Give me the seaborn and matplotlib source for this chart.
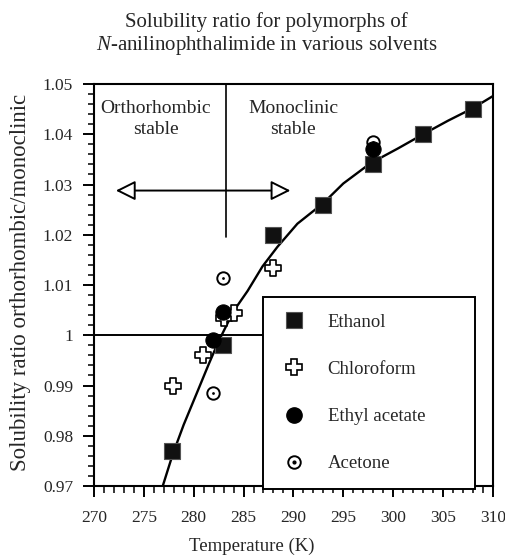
import matplotlib
matplotlib.use("Agg")
import numpy as np
import pandas as pd
import seaborn as sns
import matplotlib.pyplot as plt
from matplotlib.lines import Line2D
from matplotlib.ticker import MultipleLocator, FixedLocator, FixedFormatter

# ---- data ----
ethanol_T = [277.8, 282.9, 288.0, 293.0, 298.0, 303.0, 308.0]
ethanol_R = [0.977, 0.998, 1.020, 1.026, 1.034, 1.040, 1.045]
chloro_T = [277.9, 280.9, 283.0, 284.0, 288.0]
chloro_R = [0.990, 0.996, 1.0035, 1.0045, 1.0133]
ethylac_T = [281.9, 282.9, 298.0]
ethylac_R = [0.999, 1.0046, 1.037]
acetone_T = [281.9, 282.9, 298.0]
acetone_R = [0.9885, 1.0113, 1.0385]
fit_T = [276.9, 277.9, 279.0, 280.4, 281.5, 282.5, 284.0, 285.4, 286.9, 288.4, 290.4,
         293.0, 295.0, 297.7, 300.5, 303.0, 305.5, 308.0, 310.0]
fit_R = [0.970, 0.9763, 0.9822, 0.9889, 0.9942, 0.9988, 1.0048, 1.0088, 1.0137, 1.0176, 1.0222,
         1.0263, 1.0302, 1.0342, 1.0372, 1.0400, 1.0427, 1.0452, 1.0476]
x_ticks = [270, 275, 280, 285, 290, 295, 300, 305, 310]
x_labels = ["270", "275", "280", "285", "290", "295", "300", "305", "310"]
y_ticks = [0.97, 0.98, 0.99, 1.00, 1.01, 1.02, 1.03, 1.04, 1.05]
y_labels = ["0.97", "0.98", "0.99", "1", "1.01", "1.02", "1.03", "1.04", "1.05"]
legend_labels = ["Ethanol", "Chloroform", "Ethyl acetate", "Acetone"]
T_transition = 283.2

sns.set_style("white")
plt.rcParams["font.family"] = ["Liberation Serif", "DejaVu Serif"]
plt.rcParams["mathtext.fontset"] = "custom"
plt.rcParams["mathtext.it"] = "Liberation Serif:italic"
plt.rcParams["mathtext.rm"] = "Liberation Serif"

fig = plt.figure(figsize=(5.05, 5.55), dpi=100)
ax = fig.add_axes([0.186, 0.1243, 0.790, 0.7243])

# fit curve
fit_df = pd.DataFrame({"T": fit_T, "R": fit_R})
sns.lineplot(data=fit_df, x="T", y="R", color="black", lw=1.7, estimator=None, sort=True, ax=ax, zorder=2)

# reference lines
ax.plot([270, 287.0], [1.0, 1.0], color="black", lw=1.4, zorder=1)
ax.plot([T_transition, T_transition], [1.0196, 1.05], color="black", lw=1.2, zorder=1)
ax.annotate("", xy=(272.2, 1.0288), xytext=(289.7, 1.0288),
            arrowprops=dict(arrowstyle="<|-|>,head_length=0.6,head_width=0.3",
                            mutation_scale=20, fc="white", ec="black", lw=1.4,
                            shrinkA=0, shrinkB=0))
ax.text(276.2, 1.0431, "Orthorhombic\nstable", ha="center", va="center", fontsize=14, linespacing=1.28)
ax.text(290.0, 1.0431, "Monoclinic\nstable", ha="center", va="center", fontsize=14, linespacing=1.28)

# data points
sns.scatterplot(x=ethanol_T, y=ethanol_R, marker="s", s=120, color="#111111",
                edgecolor="#555555", linewidth=0.8, ax=ax, zorder=4)
sns.scatterplot(x=chloro_T, y=chloro_R, marker="P", s=130, color="white",
                edgecolor="black", linewidth=1.2, ax=ax, zorder=3)
sns.scatterplot(x=ethylac_T, y=ethylac_R, marker="o", s=120, color="black",
                edgecolor="black", linewidth=0.8, ax=ax, zorder=5)
sns.scatterplot(x=acetone_T, y=acetone_R, marker="o", s=80, color="white",
                edgecolor="black", linewidth=1.4, ax=ax, zorder=3)
sns.scatterplot(x=acetone_T, y=acetone_R, marker="o", s=4, color="black",
                edgecolor="black", linewidth=0, ax=ax, zorder=3)

ax.set_xlim(270, 310)
ax.set_ylim(0.97, 1.05)
ax.xaxis.set_major_locator(FixedLocator(x_ticks))
ax.xaxis.set_major_formatter(FixedFormatter(x_labels))
ax.yaxis.set_major_locator(FixedLocator(y_ticks))
ax.yaxis.set_major_formatter(FixedFormatter(y_labels))
ax.xaxis.set_minor_locator(MultipleLocator(1))
ax.yaxis.set_minor_locator(MultipleLocator(0.002))
ax.tick_params(axis="both", which="both", direction="out", color="black", labelsize=12.5,
               top=False, right=False, bottom=True, left=True)
ax.tick_params(axis="y", which="major", length=8, width=1.4, pad=7)
ax.tick_params(axis="y", which="minor", length=4, width=1.1)
ax.tick_params(axis="x", which="major", length=8, width=1.4, pad=9)
ax.tick_params(axis="x", which="minor", length=5, width=1.1)
for sp in ax.spines.values():
    sp.set_visible(True)
    sp.set_color("black")
    sp.set_linewidth(1.5)

ax.set_xlabel("Temperature (K)", fontsize=13.5)
ax.set_ylabel("Solubility ratio orthorhombic/monoclinic", fontsize=16.5)
ax.xaxis.set_label_coords(0.395, -0.129)
ax.yaxis.set_label_coords(-0.1575, 0.5075)

fig.text(0.527, 0.961, "Solubility ratio for polymorphs of", ha="center", va="center", fontsize=15)
fig.text(0.529, 0.918, r"$\mathit{N}$-anilinophthalimide in various solvents", ha="center", va="center", fontsize=15)

# legend
h_eth = Line2D([], [], ls="none", marker="s", ms=11, mfc="#111111", mec="#555555", mew=0.8)
h_chl = Line2D([], [], ls="none", marker="P", ms=11, mfc="white", mec="black", mew=1.2)
h_eac = Line2D([], [], ls="none", marker="o", ms=11, mfc="black", mec="black")
h_ac1 = Line2D([], [], ls="none", marker="o", ms=9, mfc="white", mec="black", mew=1.4)
h_ac2 = Line2D([], [], ls="none", marker="o", ms=2, mfc="black", mec="black")
leg = ax.legend([h_eth, h_chl, h_eac, (h_ac1, h_ac2)], legend_labels,
                loc="upper left", bbox_to_anchor=(0.425, 0.0, 0.53, 0.47), mode="expand",
                borderaxespad=0, fontsize=13.5, frameon=True, fancybox=False,
                borderpad=0.89, labelspacing=1.6, handlelength=1.43, handletextpad=1.1)
leg.get_frame().set_edgecolor("black")
leg.get_frame().set_linewidth(1.4)
leg.get_frame().set_alpha(1)
leg.set_zorder(6)

fig.savefig("out.png", dpi=100)
